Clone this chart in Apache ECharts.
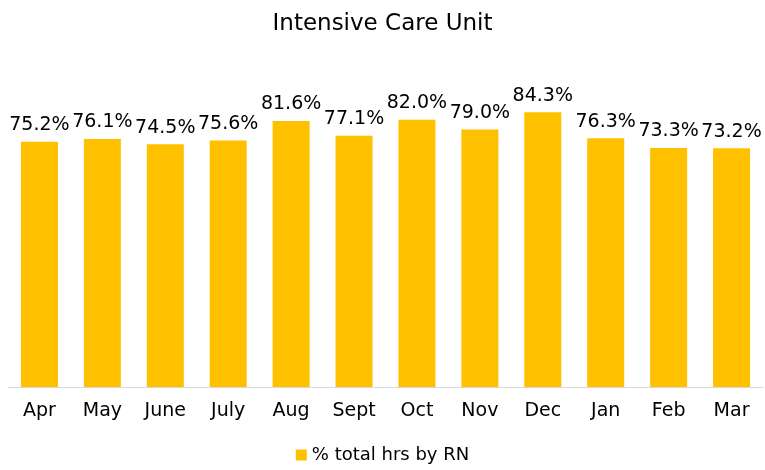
<!DOCTYPE html>
<html>
<head>
<meta charset="utf-8">
<script src="https://cdn.jsdelivr.net/npm/echarts@6/dist/echarts.min.js"></script>
<style>
  html, body { margin: 0; padding: 0; background: #fff; }
  #chart { width: 765px; height: 470px; }
</style>
</head>
<body>
<div id="chart"></div>
<script>
const months = ['Apr', 'May', 'June', 'July', 'Aug', 'Sept', 'Oct', 'Nov', 'Dec', 'Jan', 'Feb', 'Mar'];
const rnShare = [75.2, 76.1, 74.5, 75.6, 81.6, 77.1, 82.0, 79.0, 84.3, 76.3, 73.3, 73.2];
const seriesName = '% total hrs by RN';

const myChart = echarts.init(document.getElementById('chart'));
const font = 'DejaVu Sans';
const option = {
  animation: false,
  title: {
    text: 'Intensive Care Unit',
    left: 'center',
    top: 8,
    textStyle: { fontFamily: font, fontSize: 23, fontWeight: 'normal', color: '#000' }
  },
  legend: {
    bottom: 1,
    left: 'center',
    itemWidth: 11,
    itemHeight: 11,
    icon: 'rect',
    textStyle: { fontFamily: font, fontSize: 18, color: '#000' },
    data: [seriesName]
  },
  grid: { left: 8, right: 2, top: 61, bottom: 83 },
  xAxis: {
    type: 'category',
    data: months,
    axisTick: { show: false },
    axisLine: { lineStyle: { color: '#d9d9d9', width: 1 } },
    axisLabel: { fontFamily: font, fontSize: 19, color: '#000', margin: 15 }
  },
  yAxis: {
    type: 'value',
    min: 0,
    max: 100,
    show: false,
    splitLine: { show: false }
  },
  series: [{
    name: seriesName,
    type: 'bar',
    data: rnShare,
    barWidth: 37,
    itemStyle: { color: '#ffc000' },
    label: {
      show: true,
      position: 'top',
      distance: 7,
      formatter: p => p.value.toFixed(1) + '%',
      fontFamily: font,
      fontSize: 19,
      color: '#000'
    }
  }]
};
myChart.setOption(option);
</script>
</body>
</html>
